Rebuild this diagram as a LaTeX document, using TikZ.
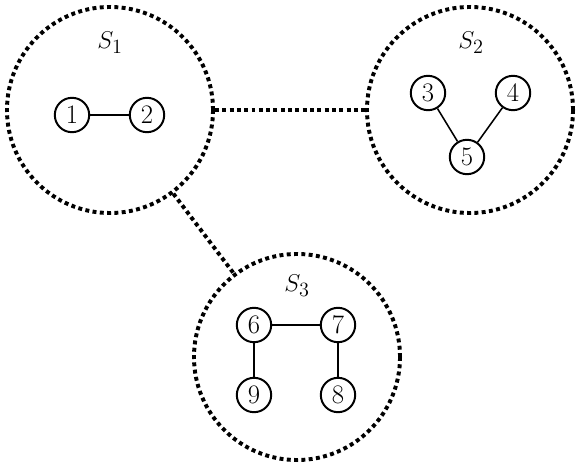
\documentclass[tikz,border=0pt]{standalone}
\usetikzlibrary{positioning}
\tikzset{
  every picture/.style={line width=1.1pt},
  vertex/.style={circle, draw, line width=1.4pt, minimum size=0.86cm, inner sep=0pt, font=\fontsize{19}{22}\selectfont},
  group/.style={circle, draw, line width=2.8pt, dash pattern=on 2.8pt off 2.4pt, minimum size=5.15cm, inner sep=0pt},
  grouplink/.style={line width=2.8pt, dash pattern=on 2.8pt off 2.4pt},
  glabel/.style={font=\fontsize{19}{22}\selectfont},
}
\begin{document}
\begin{tikzpicture}[x=0.025cm, y=-0.025cm]
  \useasboundingbox (0,0) rectangle (582,471);
  % groups
  \node[group] (S1) at (110,110) {};
  \node[group] (S2) at (470,110) {};
  \node[group] (S3) at (297,357) {};
  \node[glabel] (l1) at (110,43) {$S_1$};
  \node[glabel] (l2) at (471,43) {$S_2$};
  \node[glabel] (l3) at (297,286) {$S_3$};
  \draw[grouplink] (S1) -- (S2);
  \draw[grouplink] (S1) -- (S3);
  % vertices
  \node[vertex] (v1) at (72,115) {1};
  \node[vertex] (v2) at (147,115) {2};
  \node[vertex] (v3) at (428,93) {3};
  \node[vertex] (v4) at (513,93) {4};
  \node[vertex] (v5) at (467,157) {5};
  \node[vertex] (v6) at (254,325) {6};
  \node[vertex] (v7) at (338,325) {7};
  \node[vertex] (v9) at (254,395) {9};
  \node[vertex] (v8) at (338,395) {8};
  \draw (v1) -- (v2);
  \draw (v3) -- (v5) -- (v4);
  \draw (v9) -- (v6) -- (v7) -- (v8);
\end{tikzpicture}
\end{document}
